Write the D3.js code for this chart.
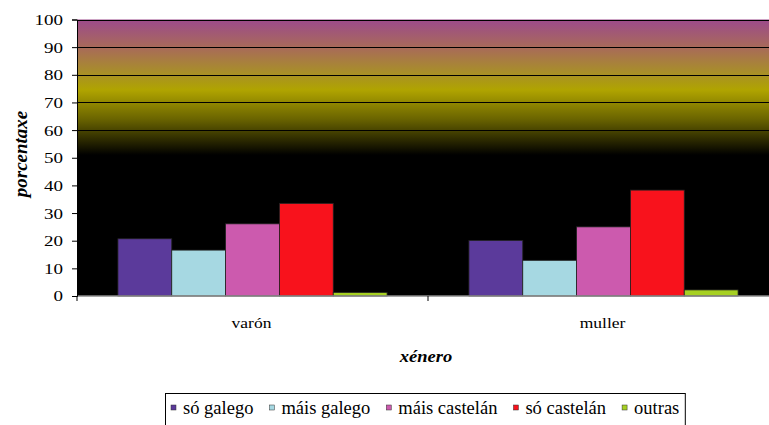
<!DOCTYPE html>
<html>
<head>
<meta charset="utf-8">
<script src="https://cdn.jsdelivr.net/npm/d3@7"></script>
<style>
  body { margin: 0; background: #fff; }
</style>
</head>
<body>
<script>
// categories and series
var categories = ["varón", "muller"];
var series = ["só galego", "máis galego", "máis castelán", "só castelán", "outras"];
var colors = ["#5b3a9b", "#a6d8e2", "#cc5aae", "#f8121c", "#a6d022"];
var valVaron = [20.7, 16.6, 26.1, 33.5, 1.3];
var valMuller = [20.1, 12.9, 25.0, 38.3, 2.2];
var yTicks = [0, 10, 20, 30, 40, 50, 60, 70, 80, 90, 100];

var width = 769, height = 425;
var plotL = 77, plotR = 779, plotT = 19.5, plotB = 296;
var serifFont = "Liberation Serif";

var svg = d3.select("body").append("svg")
    .attr("width", width)
    .attr("height", height);

var x0 = d3.scaleBand().domain(categories).range([plotL, plotR]);
var x1 = d3.scaleBand().domain(series).range([0, x0.bandwidth()]).paddingOuter(0.76);
var y = d3.scaleLinear().domain([0, 100]).range([plotB, plotT]);

// background gradient of the plot area
var defs = svg.append("defs");
var grad = defs.append("linearGradient").attr("id", "bg")
    .attr("x1", 0).attr("y1", 0).attr("x2", 0).attr("y2", 1);
grad.append("stop").attr("offset", "0%").attr("stop-color", "#9c4a8c");
grad.append("stop").attr("offset", "10%").attr("stop-color", "#a86a5a");
grad.append("stop").attr("offset", "19%").attr("stop-color", "#a88e2a");
grad.append("stop").attr("offset", "25.5%").attr("stop-color", "#b0a400");
grad.append("stop").attr("offset", "36%").attr("stop-color", "#6a6400");
grad.append("stop").attr("offset", "49%").attr("stop-color", "#000000");
grad.append("stop").attr("offset", "100%").attr("stop-color", "#000000");

svg.append("rect")
    .attr("x", plotL).attr("y", plotT)
    .attr("width", plotR - plotL).attr("height", plotB - plotT)
    .attr("fill", "url(#bg)");

// gridlines
svg.append("g").selectAll("line")
    .data(yTicks.filter(function(d){ return d > 0; }))
    .enter().append("line")
    .attr("x1", plotL).attr("x2", plotR)
    .attr("y1", function(d){ return Math.round(y(d)) + 0.5; })
    .attr("y2", function(d){ return Math.round(y(d)) + 0.5; })
    .attr("stroke", "#000").attr("stroke-width", 1.2);

// bars
var rows = [valVaron, valMuller];
var groups = svg.append("g").selectAll("g")
    .data(categories)
    .enter().append("g")
    .attr("transform", function(d){ return "translate(" + x0(d) + ",0)"; });

groups.selectAll("rect")
    .data(function(d, i){
        return series.map(function(s, j){ return {s: s, v: rows[i][j], c: colors[j]}; });
    })
    .enter().append("rect")
    .attr("x", function(d){ return x1(d.s); })
    .attr("y", function(d){ return y(d.v); })
    .attr("width", x1.bandwidth())
    .attr("height", function(d){ return y(0) - y(d.v); })
    .attr("fill", function(d){ return d.c; })
    .attr("stroke", "#222").attr("stroke-width", 0.8);

// zero line
svg.append("line")
    .attr("x1", plotL).attr("x2", plotR)
    .attr("y1", plotB).attr("y2", plotB)
    .attr("stroke", "#8a8a8a").attr("stroke-width", 1.5);

// y axis
var yAxis = svg.append("g")
    .attr("transform", "translate(" + plotL + ",0)")
    .attr("font-family", serifFont)
    .call(d3.axisLeft(y).tickValues(yTicks).tickSize(5).tickPadding(9));
yAxis.select(".domain").attr("stroke", "#000");
yAxis.selectAll(".tick line").attr("stroke", "#000");
yAxis.selectAll("text")
    .style("font-family", serifFont).style("font-size", "19px").attr("fill", "#000")
    .attr("transform", "scale(1,0.82)");

// x axis ticks (category separators)
var seps = [plotL, x0("muller")];
svg.append("g").selectAll("line")
    .data(seps)
    .enter().append("line")
    .attr("x1", function(d){ return d; }).attr("x2", function(d){ return d; })
    .attr("y1", plotB).attr("y2", plotB + 5)
    .attr("stroke", "#000");

svg.append("g").selectAll("text")
    .data(categories)
    .enter().append("text")
    .attr("transform", function(d){
        return "translate(" + (x0(d) + x0.bandwidth() / 2 - 1) + ",328) scale(1,0.87)";
    })
    .attr("text-anchor", "middle")
    .style("font-family", serifFont).style("font-size", "17.5px")
    .text(function(d){ return d; });

// axis titles
svg.append("text")
    .attr("transform", "translate(426,362) scale(1,0.87)")
    .attr("text-anchor", "middle")
    .style("font-family", serifFont)
    .style("font-size", "18.5px").style("font-weight", "bold").style("font-style", "italic")
    .text("xénero");

svg.append("text")
    .attr("transform", "translate(27,154) rotate(-90)")
    .attr("text-anchor", "middle")
    .style("font-family", serifFont)
    .style("font-size", "19px").style("font-weight", "bold").style("font-style", "italic")
    .text("porcentaxe");

// legend
var lg = svg.append("g");
var lgBox = lg.append("rect")
    .attr("x", 165.5).attr("y", 393.5)
    .attr("height", 40)
    .attr("fill", "#fff").attr("stroke", "#000");
var lx = 171;
series.forEach(function(s, i){
    lg.append("rect")
        .attr("x", lx).attr("y", 405)
        .attr("width", 5).attr("height", 5)
        .attr("fill", colors[i]).attr("stroke", "#333").attr("stroke-width", 0.5);
    var t = lg.append("text")
        .attr("x", lx + 12).attr("y", 414)
        .style("font-family", serifFont).style("font-size", "18.5px")
        .text(s);
    lx += 12 + t.node().getComputedTextLength() + 16;
});
lgBox.attr("width", lx - 165.5 - 10);
</script>
</body>
</html>
